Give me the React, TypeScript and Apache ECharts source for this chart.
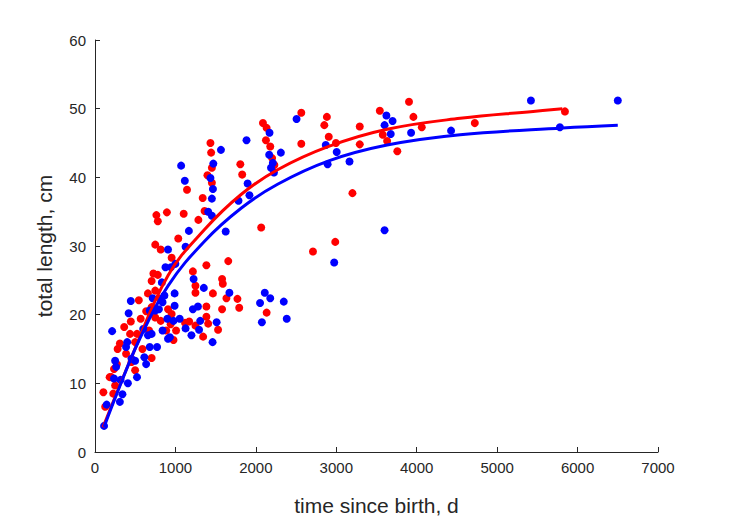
import React, { useEffect, useRef } from "react";
import * as echarts from "echarts";

// Female (red) observations: [days, length cm]
const redDays = [2565, 2883, 2851, 2088, 2134, 3292, 3541, 3904, 3959, 4063, 4722, 5843, 3578, 3632, 3759, 2906, 2996, 2565, 3292, 2125, 2179, 2202, 2230, 1435, 1444, 1453, 1398, 1453, 1339, 1362, 1285, 1807, 1830, 1144, 1103, 894, 763, 781, 1035, 749, 817, 953, 1385, 1657, 1217, 1249, 1249, 1466, 1580, 1589, 1634, 1771, 1793, 1580, 1385, 2066, 2134, 3201, 2987, 2710, 104, 127, 204, 236, 281, 309, 363, 445, 436, 499, 545, 658, 704, 726, 781, 749, 808, 704, 749, 817, 885, 976, 953, 1008, 1171, 1249, 1344, 1407, 1385, 1530, 590, 704, 499, 454, 386, 272, 182, 250, 227, 522, 568, 636, 672, 908, 940, 1120];
const redLengths = [49.4, 48.8, 47.6, 47.9, 47.2, 47.4, 49.7, 51.0, 48.8, 47.3, 47.9, 49.6, 46.2, 45.3, 43.8, 45.9, 45.0, 44.9, 44.8, 45.4, 44.5, 42.8, 41.8, 45.0, 43.6, 41.4, 40.3, 39.2, 37.0, 35.1, 33.8, 41.9, 40.4, 38.2, 34.7, 34.9, 34.5, 33.6, 31.1, 30.2, 29.5, 28.3, 27.2, 27.8, 26.3, 24.2, 23.2, 23.1, 25.2, 24.5, 22.4, 22.3, 21.0, 20.8, 21.2, 32.7, 20.3, 37.7, 30.6, 29.2, 8.7, 6.6, 10.9, 12.1, 15.0, 15.8, 18.2, 19.0, 17.2, 16.0, 22.1, 23.1, 24.9, 26.0, 25.8, 23.5, 22.3, 21.1, 19.6, 19.1, 17.7, 16.3, 20.1, 17.7, 19.0, 18.4, 16.8, 18.7, 19.7, 17.8, 15.0, 13.7, 11.9, 13.1, 14.3, 12.8, 10.9, 9.7, 8.5, 17.2, 19.4, 20.5, 17.7, 20.8, 18.6, 18.8];

// Male (blue) observations
const blueDays = [2506, 5420, 6500, 3623, 3700, 3600, 3677, 3930, 4427, 5780, 2869, 3005, 3164, 2892, 2170, 2166, 2211, 2188, 2225, 2311, 1884, 1566, 1471, 1435, 1466, 1453, 1407, 1453, 1071, 1117, 1898, 1920, 1784, 1625, 1167, 1126, 908, 3600, 2974, 2111, 2179, 2052, 2347, 2384, 2075, 1353, 1671, 1226, 1217, 1280, 1308, 1512, 1462, 1199, 1294, 1126, 1053, 990, 990, 999, 944, 876, 831, 445, 418, 213, 113, 145, 309, 341, 250, 263, 236, 318, 409, 522, 454, 499, 386, 400, 636, 613, 599, 658, 704, 681, 772, 749, 717, 795, 840, 908, 931, 899, 976, 840, 863, 681];
const blueLengths = [48.5, 51.2, 51.2, 49.0, 48.2, 47.6, 46.3, 46.5, 46.8, 47.3, 44.7, 43.7, 42.3, 41.9, 46.5, 43.3, 42.1, 41.4, 40.7, 43.6, 45.4, 44.0, 42.0, 39.9, 38.3, 36.9, 35.0, 34.4, 41.7, 39.5, 39.1, 37.4, 36.6, 32.1, 32.2, 29.9, 29.5, 32.3, 27.6, 23.2, 22.4, 21.7, 21.9, 19.4, 18.9, 23.9, 23.2, 25.2, 20.8, 21.2, 19.1, 18.9, 16.0, 17.0, 17.8, 18.0, 19.4, 21.3, 23.1, 27.4, 26.9, 26.9, 24.7, 22.0, 20.2, 17.6, 3.8, 6.9, 7.3, 8.4, 13.3, 12.4, 10.7, 10.5, 10.0, 10.9, 13.6, 13.3, 15.3, 16.0, 12.8, 13.8, 17.9, 17.0, 17.2, 15.3, 15.3, 20.6, 22.4, 20.8, 17.7, 16.5, 16.7, 19.4, 19.1, 21.8, 22.8, 20.6];

// Fitted growth curves
const redFitDays = [100, 454, 908, 1362, 1816, 2270, 2906, 3632, 4540, 5448, 5811];
const redFitLengths = [3.6, 13.8, 25.7, 32.4, 37.5, 41.1, 44.5, 47.0, 48.6, 49.6, 50.0];
const blueFitDays = [113, 272, 545, 908, 1362, 1816, 2270, 2906, 3632, 4540, 5811, 6500];
const blueFitLengths = [3.65, 8.5, 16.2, 24.2, 30.7, 35.5, 39.0, 42.4, 44.7, 46.2, 47.2, 47.6];

const xTicks = { min: 0, max: 7000, interval: 1000 };
const yTicks = { min: 0, max: 60, interval: 10 };

const zip = (a: number[], b: number[]) => a.map((v, i) => [v, b[i]]);

export default function App() {
  const ref = useRef<HTMLDivElement>(null);
  useEffect(() => {
    if (!ref.current) return;
    const chart = echarts.init(ref.current, undefined, { renderer: "svg" });
    const axisColor = "#262626";
    const font = "Liberation Sans, Arial, Helvetica, sans-serif";
    const axisCommon = {
      axisLine: { show: true, lineStyle: { color: axisColor, width: 1 } },
      axisTick: { show: true, inside: true, length: 5, lineStyle: { color: axisColor } },
      splitLine: { show: false },
      nameLocation: "middle" as const,
      nameTextStyle: { color: axisColor, fontSize: 21, fontFamily: font },
    };
    const labelStyle = {
      color: axisColor,
      fontSize: 15,
      fontFamily: font,
      formatter: (v: number) => String(v),
    };
    chart.setOption({
      animation: false,
      backgroundColor: "#ffffff",
      grid: { left: 95, top: 40, width: 563, height: 413, containLabel: false },
      xAxis: {
        type: "value",
        ...xTicks,
        name: "time since birth, d",
        nameGap: 43,
        ...axisCommon,
        axisLabel: { ...labelStyle, margin: 8 },
      },
      yAxis: {
        type: "value",
        ...yTicks,
        name: "total length, cm",
        nameGap: 40,
        ...axisCommon,
        axisLabel: { ...labelStyle, margin: 9 },
      },
      series: [
        {
          type: "scatter",
          data: zip(redDays, redLengths),
          symbolSize: 8,
          itemStyle: { color: "#ff0000", opacity: 1 },
        },
        {
          type: "scatter",
          data: zip(blueDays, blueLengths),
          symbolSize: 8,
          itemStyle: { color: "#0000ff", opacity: 1 },
        },
        {
          type: "line",
          data: zip(redFitDays, redFitLengths),
          smooth: 0.4,
          showSymbol: false,
          lineStyle: { color: "#ff0000", width: 3 },
        },
        {
          type: "line",
          data: zip(blueFitDays, blueFitLengths),
          smooth: 0.4,
          showSymbol: false,
          lineStyle: { color: "#0000ff", width: 3 },
        },
      ],
    });
    return () => chart.dispose();
  }, []);
  return (
    <div
      ref={ref}
      style={{ position: "fixed", left: 0, top: 0, width: 729, height: 521, background: "#fff" }}
    />
  );
}
